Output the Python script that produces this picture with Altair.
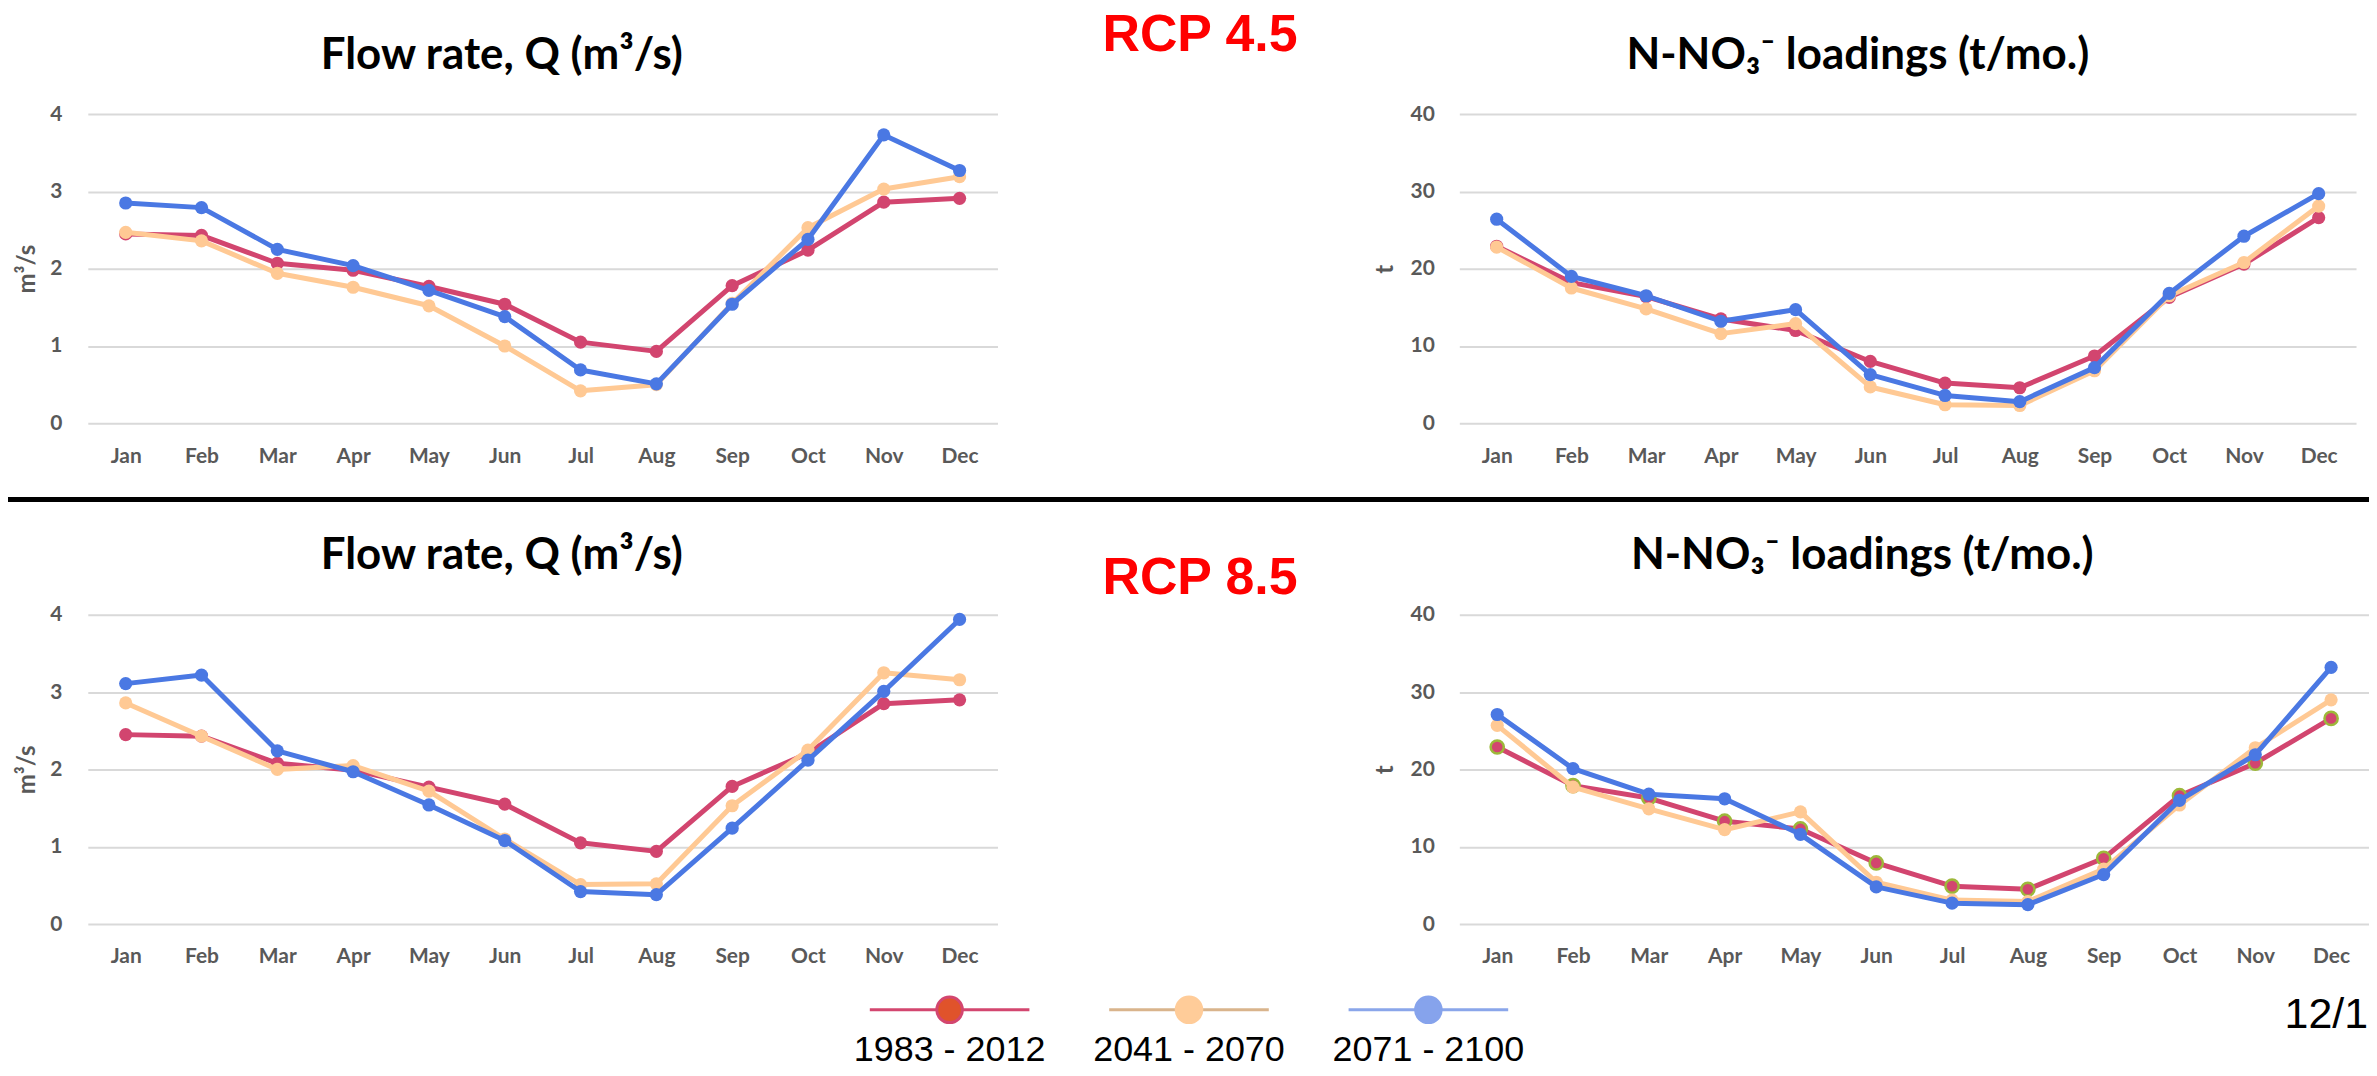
import altair as alt
import pandas as pd

months = ["Jan", "Feb", "Mar", "Apr", "May", "Jun", "Jul", "Aug", "Sep", "Oct", "Nov", "Dec"]
periods = ["1983 - 2012", "2041 - 2070", "2071 - 2100"]

# Flow rate, Q (m3/s) - RCP 4.5
q45_1983_2012 = [2.45, 2.43, 2.07, 1.98, 1.77, 1.54, 1.05, 0.93, 1.78, 2.24, 2.86, 2.91]
q45_2041_2070 = [2.47, 2.36, 1.94, 1.76, 1.52, 1.00, 0.42, 0.50, 1.55, 2.53, 3.03, 3.19]
q45_2071_2100 = [2.85, 2.79, 2.25, 2.04, 1.72, 1.38, 0.69, 0.51, 1.54, 2.38, 3.73, 3.27]

# N-NO3- loadings (t/mo.) - RCP 4.5
n45_1983_2012 = [22.9, 18.2, 16.4, 13.5, 12.0, 8.0, 5.2, 4.6, 8.7, 16.3, 20.6, 26.6]
n45_2041_2070 = [22.8, 17.5, 14.8, 11.6, 12.9, 4.7, 2.4, 2.3, 6.8, 16.5, 20.8, 28.1]
n45_2071_2100 = [26.4, 19.0, 16.5, 13.2, 14.7, 6.3, 3.6, 2.8, 7.2, 16.8, 24.2, 29.7]

# Flow rate, Q (m3/s) - RCP 8.5
q85_1983_2012 = [2.45, 2.43, 2.08, 1.99, 1.77, 1.55, 1.05, 0.94, 1.78, 2.21, 2.85, 2.90]
q85_2041_2070 = [2.86, 2.43, 2.00, 2.05, 1.72, 1.10, 0.51, 0.52, 1.53, 2.25, 3.25, 3.16]
q85_2071_2100 = [3.11, 3.22, 2.24, 1.97, 1.54, 1.08, 0.42, 0.38, 1.24, 2.12, 3.01, 3.94]

# N-NO3- loadings (t/mo.) - RCP 8.5
n85_1983_2012 = [22.9, 17.9, 16.3, 13.3, 12.3, 7.9, 4.9, 4.5, 8.5, 16.6, 20.8, 26.6]
n85_2041_2070 = [25.7, 17.7, 14.9, 12.2, 14.5, 5.4, 3.1, 2.9, 7.1, 15.4, 22.8, 29.0]
n85_2071_2100 = [27.1, 20.1, 16.8, 16.2, 11.6, 4.8, 2.7, 2.5, 6.4, 16.0, 21.9, 33.2]

series_colors = ["#D2456F", "#FFC994", "#4A78E3"]
legend_line_colors = ["#D3466F", "#D9B48C", "#8AA6EA"]
legend_fill_colors = ["#E0532B", "#FFCC99", "#86A3EC"]
legend_stroke_colors = ["#D3466F", "#FFCC99", "#86A3EC"]

FONT = "Lato"
GREY = "#595959"
PANEL_H = 310
LEFT_W = 912


def panel(series, ymax, ystep, ytitle, title, width, extent, label_pad, title_pad,
          title_dx, title_y, marker_strokes=(None, None, None), rcp=None):
    x_enc = alt.X(
        "month:N", sort=months, title=None,
        scale=alt.Scale(type="point", padding=0.5),
        axis=alt.Axis(labelAngle=0, ticks=False, domain=False, grid=False, labelPadding=22,
                      labelFont=FONT, labelFontSize=21, labelFontWeight="bold", labelColor=GREY),
    )
    y_enc = alt.Y(
        "value:Q", title=ytitle,
        scale=alt.Scale(domain=[0, ymax], nice=False, zero=True),
        axis=alt.Axis(values=list(range(0, ymax + 1, ystep)), ticks=False, domain=False, grid=True,
                      gridColor="#D9D9D9", gridWidth=2, labelPadding=label_pad,
                      minExtent=extent, maxExtent=extent, titlePadding=title_pad,
                      labelFont=FONT, labelFontSize=21, labelFontWeight="bold", labelColor=GREY,
                      titleFont=FONT, titleFontSize=24, titleFontWeight="bold", titleColor=GREY),
    )
    layers = []
    for vals, color, mstroke in zip(series, series_colors, marker_strokes):
        df = pd.DataFrame({"month": months, "value": vals})
        base = alt.Chart(df).encode(x=x_enc, y=y_enc)
        layers.append(base.mark_line(color=color, strokeWidth=5, strokeJoin="round"))
        if mstroke:
            layers.append(base.mark_circle(color=color, opacity=1, size=175, stroke=mstroke, strokeWidth=2.5))
        else:
            layers.append(base.mark_circle(color=color, opacity=1, size=175))
    layers.append(alt.Chart(pd.DataFrame({"t": [title]})).mark_text(
        font=FONT, fontSize=44, fontWeight="bold", color="black", align="center", baseline="alphabetic",
    ).encode(text="t:N", x=alt.value(width / 2 + title_dx), y=alt.value(title_y)))
    if rcp:
        label, rx, ry = rcp
        layers.append(alt.Chart(pd.DataFrame({"t": [label]})).mark_text(
            font="Liberation Sans", fontSize=52, fontWeight="bold", color="#FF0000",
            align="center", baseline="alphabetic",
        ).encode(text="t:N", x=alt.value(rx), y=alt.value(ry)))
    return alt.layer(*layers).properties(width=width, height=PANEL_H)


q_title = "Flow rate, Q (m³/s)"
n_title = "N-NO₃⁻ loadings (t/mo.)"

tl = panel([q45_1983_2012, q45_2041_2070, q45_2071_2100], 4, 1, "m³/s", q_title,
           LEFT_W, 38, 26, 10, -41, -45, rcp=("RCP 4.5", 1115, -63))
tr = panel([n45_1983_2012, n45_2041_2070, n45_2071_2100], 40, 10, "t", n_title,
           899, 49, 25, 13, -50, -45)
bl = panel([q85_1983_2012, q85_2041_2070, q85_2071_2100], 4, 1, "m³/s", q_title,
           LEFT_W, 38, 26, 10, -41, -46, rcp=("RCP 8.5", 1115, -21))
br = panel([n85_1983_2012, n85_2041_2070, n85_2071_2100], 40, 10, "t", n_title,
           912, 49, 25, 13, -52, -46, marker_strokes=("#9DB83A", None, None))

row1 = alt.hconcat(tl, tr, spacing=75)
row2 = alt.hconcat(bl, br, spacing=75)

sep = alt.Chart(pd.DataFrame({"k": [0]})).mark_rect(color="black").encode(
    x=alt.value(-80), x2=alt.value(2287), y=alt.value(7), y2=alt.value(12)
).properties(width=2200, height=20)

LEG_W = 2208
LEG_H = 72
LEG_STEP = 240
LEG_FIRST = 864
leg_lo = -LEG_FIRST / LEG_STEP
leg_hi = leg_lo + LEG_W / LEG_STEP
leg_df = pd.DataFrame({"period": periods, "idx": list(range(len(periods)))})
lx = alt.X("idx:Q", scale=alt.Scale(domain=[leg_lo, leg_hi], nice=False, zero=False), axis=None)
leg_rules = alt.Chart(leg_df).mark_rule(strokeWidth=3, xOffset=-80, x2Offset=80).encode(
    x=lx, x2=alt.X2("idx"), y=alt.value(15),
    color=alt.Color("period:N", scale=alt.Scale(domain=periods, range=legend_line_colors), legend=None),
)
leg_pts = alt.Chart(leg_df).mark_point(filled=True, size=660, strokeWidth=3, opacity=1).encode(
    x=lx, y=alt.value(15),
    fill=alt.Fill("period:N", scale=alt.Scale(domain=periods, range=legend_fill_colors), legend=None),
    stroke=alt.Stroke("period:N", scale=alt.Scale(domain=periods, range=legend_stroke_colors), legend=None),
)
leg_txt = alt.Chart(leg_df).mark_text(
    font="Liberation Sans Narrow, Arial Narrow, Liberation Sans", fontSize=36, color="black",
    baseline="alphabetic", align="center", clip=True,
).encode(x=lx, y=alt.value(66), text="period:N")
page_txt = alt.Chart(pd.DataFrame({"t": ["12/1"]})).mark_text(
    font="Liberation Sans", fontSize=43, color="black", align="right", baseline="alphabetic",
).encode(x=alt.value(2286), y=alt.value(33), text="t:N")
legend = alt.layer(leg_rules, leg_pts, leg_txt, page_txt).properties(width=LEG_W, height=LEG_H)

chart = alt.vconcat(row1, sep, row2, legend, spacing=24).properties(
    padding={"left": 0, "top": 0, "right": 0, "bottom": 0}, background="white"
).configure_view(stroke=None)

chart.save("out.html", embed_options={"renderer": "svg", "actions": False})
